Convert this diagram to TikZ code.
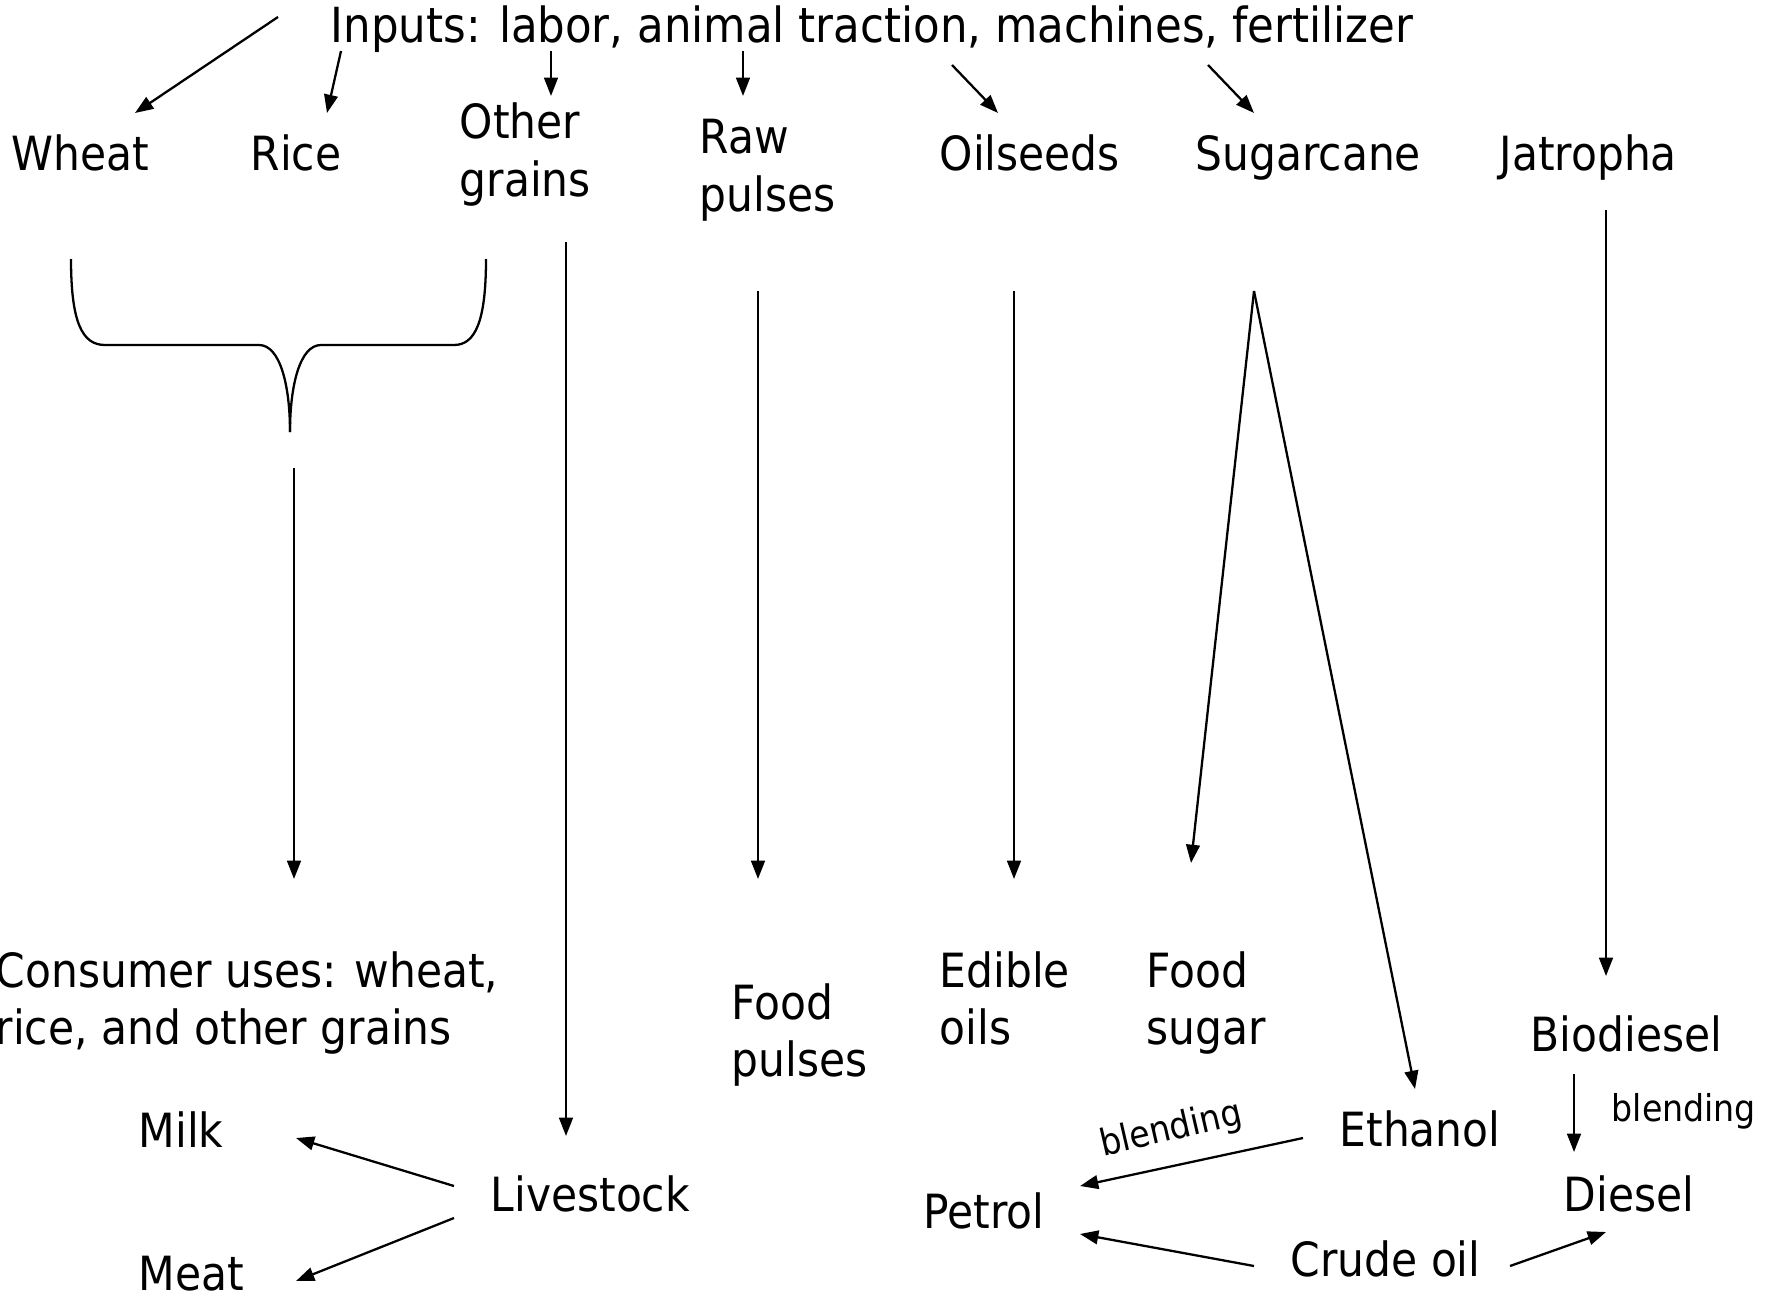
\documentclass[tikz,border=0pt]{standalone}
\usepackage{fontspec}
\setmainfont{DejaVu Sans Condensed}
\usetikzlibrary{arrows.meta}
\newcommand{\twol}[2]{\begin{tabular}[t]{@{}l@{}}#1\\#2\end{tabular}}
\tikzset{
  lbl/.style={anchor=base west, inner sep=0pt, font=\fontsize{13.4pt}{16.4pt}\selectfont},
  small/.style={inner sep=0pt, font=\fontsize{10.5pt}{13pt}\selectfont},
  arr/.style={line width=0.65pt, -{Triangle[length=5.2pt,width=3.9pt]}},
  ln/.style={line width=0.65pt}
}
\begin{document}
\begin{tikzpicture}[x=0.01cm,y=-0.01cm]
\useasboundingbox[fill=white] (0,0) rectangle (1767,1297);
% labels
\node[lbl, font=\fontsize{13.75pt}{16.4pt}\selectfont] (inputs) at (330,43) {Inputs: labor, animal traction, machines, fertilizer};
\node[lbl] (wheat) at (11,171) {Wheat};
\node[lbl] (rice) at (250,171) {Rice};
\node[lbl] (other) at (459,139) {\twol{Other}{grains}};
\node[lbl] (raw) at (699,154) {\twol{Raw}{pulses}};
\node[lbl] (oilseeds) at (939,171) {Oilseeds};
\node[lbl] (sugarcane) at (1195,171) {Sugarcane};
\node[lbl] (jatropha) at (1499,171) {Jatropha};
\node[lbl] (consumer) at (-5,987) {\twol{Consumer uses: wheat,}{rice, and other grains}};
\node[lbl] (foodpulses) at (731,1019) {\twol{Food}{pulses}};
\node[lbl] (edible) at (939,987) {\twol{Edible}{oils}};
\node[lbl] (foodsugar) at (1146,987) {\twol{Food}{sugar}};
\node[lbl] (biodiesel) at (1530,1051) {Biodiesel};
\node[small, anchor=base west] (blendR) at (1611,1121) {blending};
\node[lbl] (ethanol) at (1339,1146) {Ethanol};
\node[small, rotate=13] (blendL) at (1171,1130) {blending};
\node[lbl] (diesel) at (1563,1211) {Diesel};
\node[lbl] (petrol) at (923,1228) {Petrol};
\node[lbl] (crude) at (1290,1276) {Crude oil};
\node[lbl] (milk) at (138,1147) {Milk};
\node[lbl] (livestock) at (490,1211) {Livestock};
\node[lbl] (meat) at (138,1290) {Meat};
% coordinates
\coordinate (iw1) at (278,17);   \coordinate (iw2) at (135,113);
\coordinate (ir1) at (341,51);   \coordinate (ir2) at (327,113);
\coordinate (io1) at (551,51);   \coordinate (io2) at (551,96);
\coordinate (ip1) at (743,51);   \coordinate (ip2) at (743,96);
\coordinate (is1) at (952,65);   \coordinate (is2) at (998,113);
\coordinate (ic1) at (1208,65);  \coordinate (ic2) at (1254,113);
\coordinate (br1) at (294,468);  \coordinate (br2) at (294,879);
\coordinate (og1) at (566,242);  \coordinate (og2) at (566,1136);
\coordinate (rp1) at (758,291);  \coordinate (rp2) at (758,879);
\coordinate (os1) at (1014,291); \coordinate (os2) at (1014,879);
\coordinate (sc) at (1254,291);
\coordinate (sc2) at (1191,863);
\coordinate (sc3) at (1415,1089);
\coordinate (jt1) at (1606,210); \coordinate (jt2) at (1606,976);
\coordinate (bd1) at (1574,1074); \coordinate (bd2) at (1574,1152);
\coordinate (lv1) at (454,1186); \coordinate (lv2) at (296,1138);
\coordinate (lv3) at (454,1218); \coordinate (lv4) at (296,1281);
\coordinate (et1) at (1303,1138); \coordinate (et2) at (1080,1186);
\coordinate (cr1) at (1254,1266); \coordinate (cr2) at (1080,1234);
\coordinate (cr3) at (1510,1266); \coordinate (cr4) at (1606,1232);
% arrows
\draw[arr] (iw1) -- (iw2);
\draw[arr] (ir1) -- (ir2);
\draw[arr] (io1) -- (io2);
\draw[arr] (ip1) -- (ip2);
\draw[arr] (is1) -- (is2);
\draw[arr] (ic1) -- (ic2);
% brace
\draw[ln] (71,259) .. controls (71,322) and (82,345) .. (105,345) -- (259,345)
   .. controls (280,345) and (290,385) .. (290,432);
\draw[ln] (486,259) .. controls (486,322) and (475,345) .. (454,345) -- (321,345)
   .. controls (300,345) and (290,385) .. (290,432);
\draw[arr] (br1) -- (br2);
\draw[arr] (og1) -- (og2);
\draw[arr] (rp1) -- (rp2);
\draw[arr] (os1) -- (os2);
\draw[arr] (sc) -- (sc2);
\draw[arr] (sc) -- (sc3);
\draw[arr] (jt1) -- (jt2);
\draw[arr] (bd1) -- (bd2);
\draw[arr] (lv1) -- (lv2);
\draw[arr] (lv3) -- (lv4);
\draw[arr] (et1) -- (et2);
\draw[arr] (cr1) -- (cr2);
\draw[arr] (cr3) -- (cr4);
\end{tikzpicture}
\end{document}
